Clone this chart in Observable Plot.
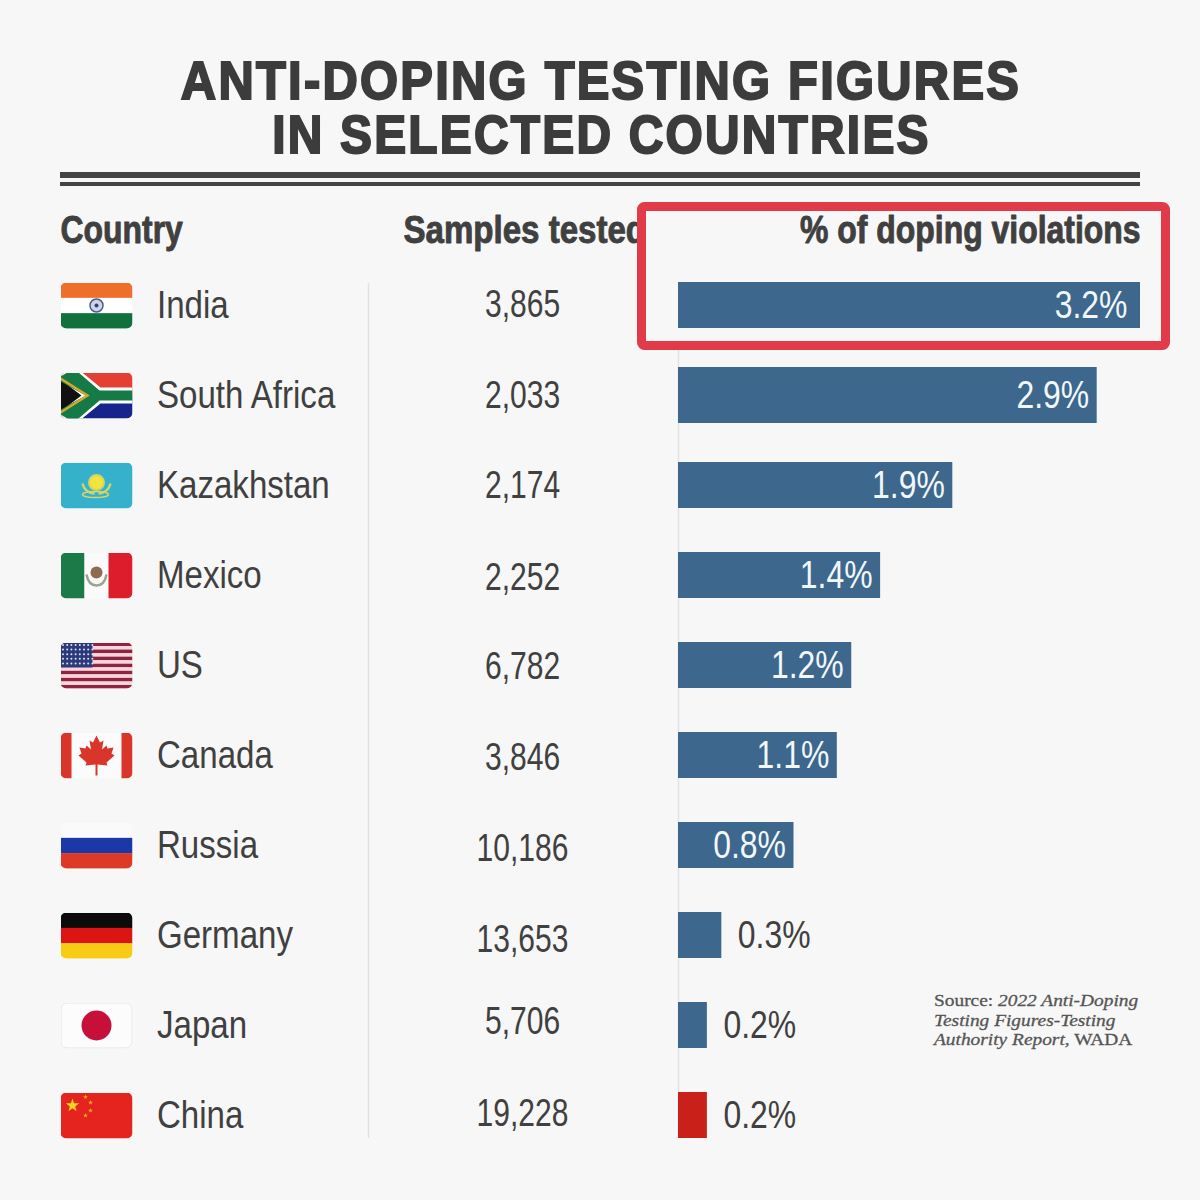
<!DOCTYPE html>
<html>
<head>
<meta charset="utf-8">
<script src="https://cdn.jsdelivr.net/npm/d3@7"></script>
<script src="https://cdn.jsdelivr.net/npm/@observablehq/plot@0.6"></script>
<style>
html,body{margin:0;padding:0;background:#f7f7f7;}
#page{position:relative;width:1200px;height:1200px;overflow:hidden;background:#f7f7f7;}
#title{position:absolute;left:0;top:55px;width:1202px;margin:0;text-align:center;color:#3c3c3c;
 font:bold 52px/52px "Liberation Sans",sans-serif;letter-spacing:2.4px;-webkit-text-stroke:2px #3c3c3c;
 transform:scale(.94,1.04);transform-origin:center;}
#title span{display:inline-block;transform:scaleX(.98);}
.rule{position:absolute;left:60px;width:1080px;background:#444;}
#chart{position:absolute;left:0;top:190px;}
#source{position:absolute;left:934px;top:991px;color:#555;font:normal 17px/19.5px "Liberation Serif",serif;white-space:pre;-webkit-text-stroke:.3px #555;transform:scaleX(1.14);transform-origin:left top;}
</style>
</head>
<body>
<div id="page">
<h1 id="title">ANTI-DOPING TESTING FIGURES<br><span>IN SELECTED COUNTRIES</span></h1>
<div class="rule" style="top:172px;height:6px"></div>
<div class="rule" style="top:182px;height:4px"></div>
<div id="chart"></div>
<div id="source">Source: <i>2022 Anti-Doping
Testing Figures-Testing
Authority Report,</i> WADA</div>
</div>
<script>
const countries = ["India","South Africa","Kazakhstan","Mexico","US","Canada","Russia","Germany","Japan","China"];
const samples = [3865,2033,2174,2252,6782,3846,10186,13653,5706,19228];
const violations = [3.2,2.9,1.9,1.4,1.2,1.1,0.8,0.3,0.2,0.2];
const sampleNudge = [-1,0,0,2,1,2,3,4,-4,-2];

const wrap = (body) => "data:image/svg+xml;utf8," + encodeURIComponent(
 `<svg xmlns="http://www.w3.org/2000/svg" viewBox="0 0 72 46" preserveAspectRatio="none"><defs><clipPath id="c"><rect width="72" height="46" rx="6"/></clipPath></defs><g clip-path="url(#c)">${body}</g></svg>`);
const stripes = (cols) => cols.map((c,i)=>`<rect y="${i*46/cols.length}" width="72" height="${46/cols.length+.3}" fill="${c}"/>`).join("");
const star = (cx,cy,r,fill) => {let p=[];for(let i=0;i<10;i++){const a=-Math.PI/2+i*Math.PI/5,q=i%2?r*.4:r;p.push((cx+q*Math.cos(a)).toFixed(1)+","+(cy+q*Math.sin(a)).toFixed(1));}return `<polygon points="${p.join(" ")}" fill="${fill}"/>`;};
let usStripes="";for(let i=0;i<13;i++)usStripes+=`<rect y="${i*46/13}" width="72" height="${46/13+.1}" fill="${i%2?'#f4d6dc':'#8e2440'}"/>`;
let usStars="";for(let r=0;r<5;r++)for(let c=0;c<8;c++)usStars+=`<circle cx="${2.5+c*4.2}" cy="${2.5+r*4.6}" r="1" fill="#dfe3f0"/>`;
const flags = [
 wrap(stripes(["#ee6f2a","#ffffff","#12703c"])+`<circle cx="36" cy="23" r="6.5" fill="#cfd3e4" stroke="#4b5a94" stroke-width="1.5"/><circle cx="36" cy="23" r="2" fill="#2f3f80"/>`),
 wrap(`<rect width="72" height="23" fill="#e43f33"/><rect y="23" width="72" height="23" fill="#16248c"/><path d="M0,0 L26,23 L0,46 Z" fill="#111"/><path d="M0,-3 L18,-3 L40,15 L72,15 L72,31 L40,31 L18,49 L0,49 L0,39 L21,23 L0,7 Z" fill="#ffffff"/><path d="M0,4 L12,-3 L18,0 L39,18 L72,18 L72,28 L39,28 L18,46 L12,49 L0,42 L0,37 L25,23 L0,9 Z" fill="#157a45"/><path d="M0,6 L27,23 L0,40" fill="none" stroke="#d6a92e" stroke-width="2.4"/>`),
 wrap(`<rect width="72" height="46" fill="#35b1cc"/><ellipse cx="35" cy="32" rx="13" ry="3" fill="none" stroke="#d9d565" stroke-width="1.5"/><circle cx="36" cy="20" r="7.5" fill="#f2e43a" stroke="#cfd46b" stroke-width="2"/><path d="M22,21 Q24,30 34,31 M50,21 Q48,30 38,31" fill="none" stroke="#cfd46b" stroke-width="2.5"/>`),
 wrap(`<rect width="24" height="46" fill="#1b7a48"/><rect x="24" width="24" height="46" fill="#fafafa"/><rect x="48" width="24" height="46" fill="#dd1c2c"/><circle cx="36" cy="20" r="6" fill="#8f6a4f"/><path d="M26,22 Q28,33 36,33 Q44,33 46,22" fill="none" stroke="#9aa58f" stroke-width="2.5"/>`),
 wrap(usStripes+`<rect width="32" height="25" fill="#2c3a7c"/>`+usStars),
 wrap(`<rect width="72" height="46" fill="#fbfbfb"/><rect width="11" height="46" fill="#d9352a"/><rect x="61" width="11" height="46" fill="#d9352a"/><path d="M36,3 L39.5,10 L43,8 L41.5,17 L46,13 L47,16 L53,15 L51,21 L54,23 L46,30 L47,33 L37,32 L37,43 L35,43 L35,32 L25,33 L26,30 L18,23 L21,21 L19,15 L25,16 L26,13 L30.5,17 L29,8 L32.5,10 Z" fill="#d9352a"/>`),
 wrap(stripes(["#fafafa","#1a38a8","#dc3a26"])),
 wrap(stripes(["#0b0b0b","#dc1414","#f8cc14"])),
 wrap(`<rect width="72" height="46" fill="#fcfcfc"/><rect x=".5" y=".5" width="71" height="45" rx="6" fill="none" stroke="#e4e4e4"/><circle cx="36" cy="23" r="15" fill="#c6103a"/>`),
 wrap(`<rect width="72" height="46" fill="#e5231f"/>`+star(12,13,7,"#f7d21e")+star(25,4.5,2.6,"#f2b01e")+star(30,10,2.6,"#f2b01e")+star(30,18,2.6,"#f2b01e")+star(25,23,2.6,"#f2b01e"))
];

const rows = countries.map((country,i)=>({country,sample:samples[i],value:violations[i],flag:flags[i],nudge:sampleNudge[i],label:violations[i].toFixed(1)+"%"}));
const highlightRow = ["India"];
const tallRow = ["South Africa"];
const xPerPercent = 144.375, zeroAt = 678;
const ink = "#404040", font = "'Liberation Sans',sans-serif";
const head = {lineAnchor:"middle",dy:-30,fontSize:38,fontWeight:"bold",fontFamily:font,fill:ink,stroke:ink,strokeWidth:.9};

const chart = Plot.plot({
 width:1200, height:1010,
 marginTop:70, marginBottom:40, marginLeft:0, marginRight:0,
 style:{background:"transparent"},
 x:{axis:null, domain:[-zeroAt/xPerPercent,(1200-zeroAt)/xPerPercent], range:[0,1200]},
 y:{axis:null, domain:countries, padding:0},
 marks:[
  Plot.ruleX([0],{stroke:"#e2e2e2",strokeWidth:1.5,insetTop:23,insetBottom:22}),
  Plot.ruleX([0],{dx:-310,stroke:"#e2e2e2",strokeWidth:1.5,insetTop:23,insetBottom:22}),
  Plot.text(["Country"],{...head,className:"sq84",frameAnchor:"top-left",dx:60,textAnchor:"start"}),
  Plot.text(["Samples tested"],{...head,className:"sq87",frameAnchor:"top-left",dx:403,textAnchor:"start"}),
  Plot.barX(highlightRow,{y:d=>d,x1:()=>-0.2528,x2:()=>3.3766,insetTop:-53.5,insetBottom:4.5,fill:"#f7f7f7",stroke:"#e13b4a",strokeWidth:9,rx:3}),
  Plot.text(["% of doping violations"],{...head,className:"sq84",frameAnchor:"top-right",dx:-60,textAnchor:"end"}),
  Plot.image(rows,{y:"country",src:"flag",frameAnchor:"left",dx:96,width:72,height:46,preserveAspectRatio:"none"}),
  Plot.text(rows,{y:"country",text:"country",frameAnchor:"left",dx:156.5,textAnchor:"start",fontSize:38,fontFamily:font,fill:ink,className:"sq88"}),
  ...rows.map(d=>Plot.text([d],{y:"country",text:d=>d3.format(",")(d.sample),frameAnchor:"left",dx:522,dy:d.nudge,textAnchor:"middle",fontSize:38,fontFamily:font,fill:ink,className:"sq79"})),
  Plot.barX(rows.filter(d=>!tallRow.includes(d.country)),{y:"country",x:"value",fill:d=>d.country==="China"?"#c9201a":"#3d678c",insetTop:22,insetBottom:22}),
  Plot.barX(rows.filter(d=>tallRow.includes(d.country)),{y:"country",x:"value",fill:"#3d678c",insetTop:17,insetBottom:17}),
  Plot.text(rows.filter(d=>d.value>=0.5&&!highlightRow.includes(d.country)),{y:"country",x:"value",text:"label",textAnchor:"end",dx:-8,fontSize:38,fontFamily:font,fill:"#f2f7fa",className:"sq84"}),
  Plot.text(rows.filter(d=>highlightRow.includes(d.country)),{y:"country",x:"value",text:"label",textAnchor:"end",dx:-13,fontSize:38,fontFamily:font,fill:"#f2f7fa",className:"sq84"}),
  Plot.text(rows.filter(d=>d.value<0.5),{y:"country",x:"value",text:"label",textAnchor:"start",dx:16,fontSize:38,fontFamily:font,fill:ink,className:"sq84"})
 ]
});
document.getElementById("chart").appendChild(chart);
for (const [cls,ratio] of [["sq84",.84],["sq87",.87],["sq88",.87],["sq79",.79]]) {
 chart.querySelectorAll("."+cls+" text, text."+cls).forEach(t=>{
  t.setAttribute("textLength",t.getComputedTextLength()*ratio);
  t.setAttribute("lengthAdjust","spacingAndGlyphs");
 });
}
</script>
</body>
</html>
